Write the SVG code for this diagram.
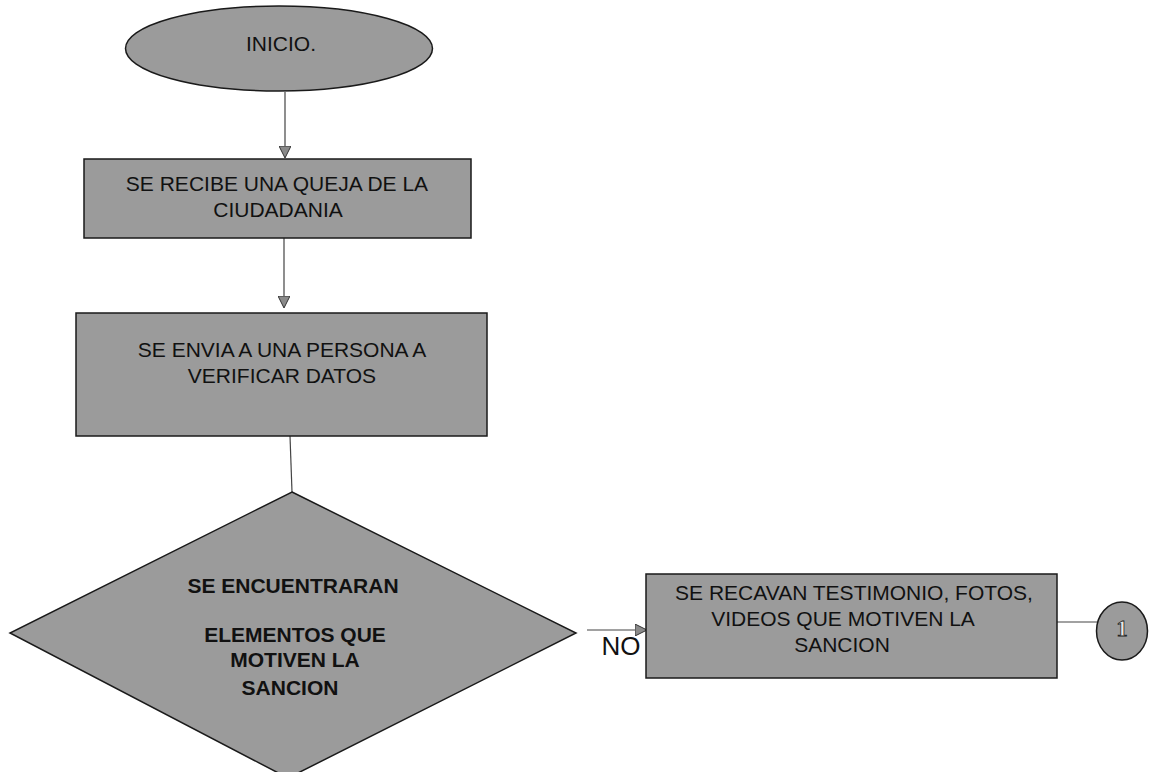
<svg xmlns="http://www.w3.org/2000/svg" width="1157" height="772" viewBox="0 0 1157 772">
<style>
.shape{fill:#9b9b9b;stroke:#1a1a1a;stroke-width:1.5}
.t{font-family:"Liberation Sans",Arial,sans-serif;font-size:21px;fill:#111;text-anchor:middle}
.b{font-family:"Liberation Sans",Arial,sans-serif;font-size:21px;font-weight:bold;fill:#111;text-anchor:middle}
.conn{stroke:#444;stroke-width:1.2;fill:none}
</style>
<defs>
<marker id="arr" viewBox="0 0 12 12" refX="11" refY="6" markerWidth="12" markerHeight="12" markerUnits="userSpaceOnUse" orient="auto">
<path d="M0,0 L12,6 L0,12 Z" fill="#8a8a8a" stroke="#333" stroke-width="1"/>
</marker>
</defs>
<rect width="1157" height="772" fill="#ffffff"/>
<g id="connectors">
<line class="conn" x1="285" y1="92" x2="285" y2="157" marker-end="url(#arr)"/>
<line class="conn" x1="284" y1="238" x2="284" y2="307" marker-end="url(#arr)"/>
<line class="conn" x1="290" y1="436" x2="292" y2="492"/>
<line class="conn" x1="587" y1="630" x2="646" y2="630" marker-end="url(#arr)"/>
<line class="conn" x1="1057" y1="622" x2="1097" y2="622"/>
<text x="621" y="655" font-family="'Liberation Sans',Arial,sans-serif" font-size="26" fill="#111" text-anchor="middle">NO</text>
</g>
<g id="inicio">
<ellipse class="shape" cx="279" cy="48.5" rx="153.5" ry="42.5"/>
<text class="t" x="281" y="51" font-size="20">INICIO.</text>
</g>
<g id="recibe">
<rect class="shape" x="84" y="159" width="387" height="79"/>
<text class="t" x="277" y="191">SE RECIBE UNA QUEJA DE LA</text>
<text class="t" x="278" y="217">CIUDADANIA</text>
</g>
<g id="envia">
<rect class="shape" x="76" y="313" width="411" height="123"/>
<text class="t" x="282" y="357">SE ENVIA A UNA PERSONA A</text>
<text class="t" x="282" y="383">VERIFICAR DATOS</text>
</g>
<g id="decision">
<polygon class="shape" points="292,492 576,633 288,778 10,633"/>
<text class="b" x="293" y="593">SE ENCUENTRARAN</text>
<text class="b" x="295" y="642">ELEMENTOS QUE</text>
<text class="b" x="295" y="667">MOTIVEN LA</text>
<text class="b" x="290" y="695">SANCION</text>
</g>
<g id="recavan">
<rect class="shape" x="646" y="574" width="411" height="104"/>
<text class="t" x="854" y="600">SE RECAVAN TESTIMONIO, FOTOS,</text>
<text class="t" x="843" y="626">VIDEOS QUE MOTIVEN LA</text>
<text class="t" x="842" y="652">SANCION</text>
</g>
<g id="conector1">
<ellipse class="shape" cx="1122" cy="631" rx="25.5" ry="29"/>
<text x="1122" y="636" font-family="'Liberation Serif','Times New Roman',serif" font-size="23" font-weight="bold" fill="#e8e8e8" stroke="#222" stroke-width="0.8" text-anchor="middle">1</text>
</g>
</svg>
